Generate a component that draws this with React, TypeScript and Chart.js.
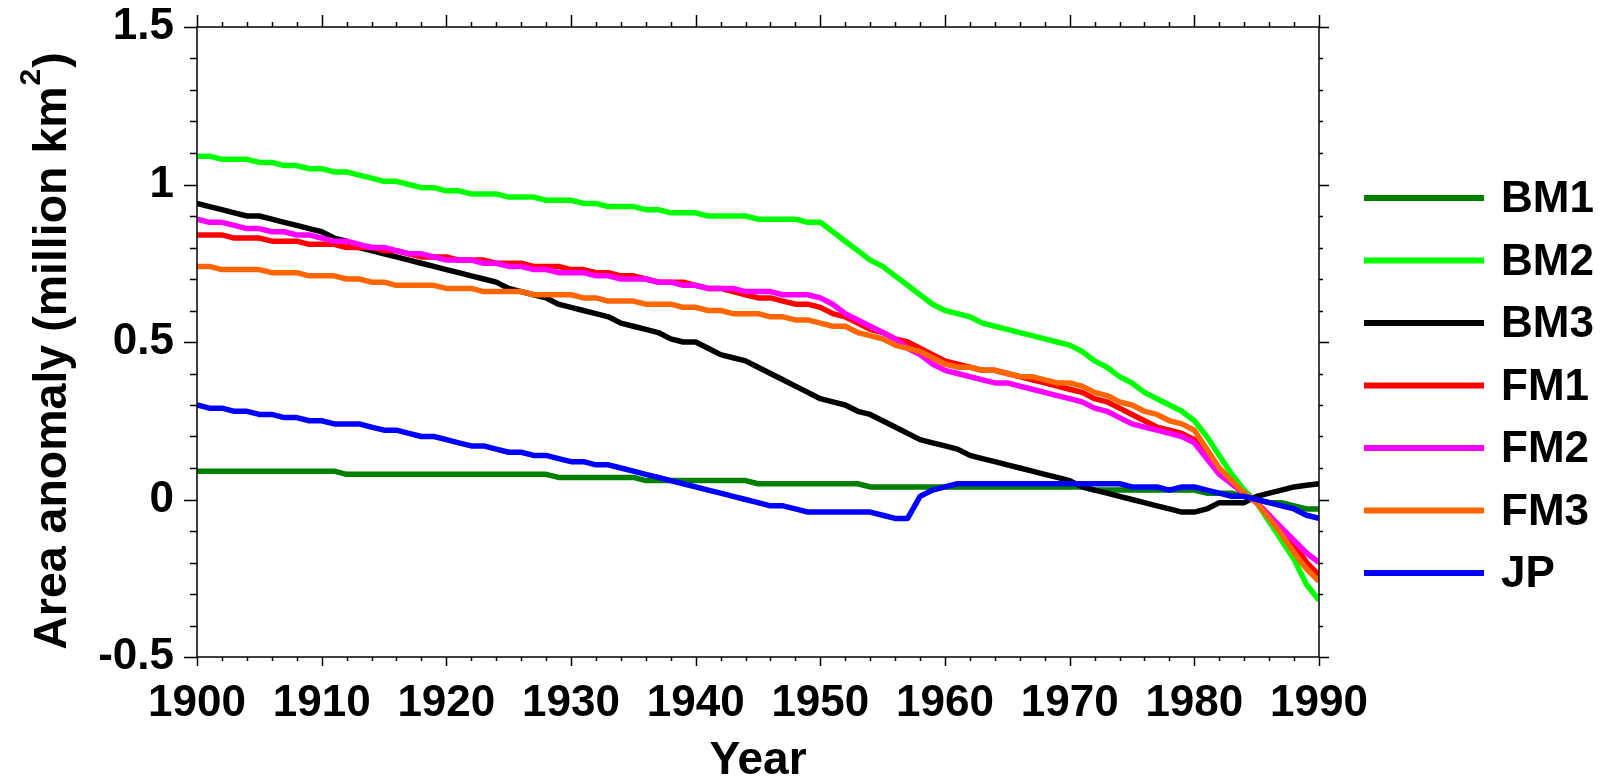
import React, { useEffect, useRef } from "react";
import { Chart, registerables } from "chart.js";

Chart.register(...registerables);

const YEARS: number[] = Array.from({ length: 91 }, (_, i) => 1900 + i);

const SERIES_NAMES = ["BM1", "BM2", "BM3", "FM1", "FM2", "FM3", "JP"];
const SERIES_COLORS = ["#007F00", "#00FF00", "#000000", "#FF0000", "#FF00FF", "#FF6600", "#0000FF"];

const BM1 = [
  0.09, 0.09, 0.09, 0.09, 0.09, 0.09, 0.09, 0.09, 0.09, 0.09,
  0.09, 0.09, 0.08, 0.08, 0.08, 0.08, 0.08, 0.08, 0.08, 0.08,
  0.08, 0.08, 0.08, 0.08, 0.08, 0.08, 0.08, 0.08, 0.08, 0.07,
  0.07, 0.07, 0.07, 0.07, 0.07, 0.07, 0.06, 0.06, 0.06, 0.06,
  0.06, 0.06, 0.06, 0.06, 0.06, 0.05, 0.05, 0.05, 0.05, 0.05,
  0.05, 0.05, 0.05, 0.05, 0.04, 0.04, 0.04, 0.04, 0.04, 0.04,
  0.04, 0.04, 0.04, 0.04, 0.04, 0.04, 0.04, 0.04, 0.04, 0.04,
  0.04, 0.04, 0.03, 0.03, 0.03, 0.03, 0.03, 0.03, 0.03, 0.03,
  0.03, 0.02, 0.02, 0.02, 0.01, 0.0, -0.01, -0.01, -0.02, -0.03, -0.03,
];

const BM2 = [
  1.09, 1.09, 1.08, 1.08, 1.08, 1.07, 1.07, 1.06, 1.06, 1.05,
  1.05, 1.04, 1.04, 1.03, 1.02, 1.01, 1.01, 1.0, 0.99, 0.99,
  0.98, 0.98, 0.97, 0.97, 0.97, 0.96, 0.96, 0.96, 0.95, 0.95,
  0.95, 0.94, 0.94, 0.93, 0.93, 0.93, 0.92, 0.92, 0.91, 0.91,
  0.91, 0.9, 0.9, 0.9, 0.9, 0.89, 0.89, 0.89, 0.89, 0.88,
  0.88, 0.85, 0.82, 0.79, 0.76, 0.74, 0.71, 0.68, 0.65, 0.62,
  0.6, 0.59, 0.58, 0.56, 0.55, 0.54, 0.53, 0.52, 0.51, 0.5,
  0.49, 0.47, 0.44, 0.42, 0.39, 0.37, 0.34, 0.32, 0.3, 0.28,
  0.25, 0.2, 0.14, 0.08, 0.03, -0.01, -0.07, -0.13, -0.19, -0.27, -0.32,
];

const BM3 = [
  0.94, 0.93, 0.92, 0.91, 0.9, 0.9, 0.89, 0.88, 0.87, 0.86,
  0.85, 0.83, 0.82, 0.8, 0.79, 0.78, 0.77, 0.76, 0.75, 0.74,
  0.73, 0.72, 0.71, 0.7, 0.69, 0.67, 0.66, 0.65, 0.64, 0.62,
  0.61, 0.6, 0.59, 0.58, 0.56, 0.55, 0.54, 0.53, 0.51, 0.5,
  0.5, 0.48, 0.46, 0.45, 0.44, 0.42, 0.4, 0.38, 0.36, 0.34,
  0.32, 0.31, 0.3, 0.28, 0.27, 0.25, 0.23, 0.21, 0.19, 0.18,
  0.17, 0.16, 0.14, 0.13, 0.12, 0.11, 0.1, 0.09, 0.08, 0.07,
  0.06, 0.04, 0.03, 0.02, 0.01, 0.0, -0.01, -0.02, -0.03, -0.04,
  -0.04, -0.03, -0.01, -0.01, -0.01, 0.01, 0.02, 0.03, 0.04, 0.045, 0.05,
];

const FM1 = [
  0.84, 0.84, 0.84, 0.83, 0.83, 0.83, 0.82, 0.82, 0.82, 0.81,
  0.81, 0.81, 0.8, 0.8, 0.8, 0.79, 0.79, 0.78, 0.77, 0.77,
  0.77, 0.76, 0.76, 0.76, 0.75, 0.75, 0.75, 0.74, 0.74, 0.74,
  0.73, 0.73, 0.72, 0.72, 0.71, 0.71, 0.7, 0.69, 0.69, 0.69,
  0.68, 0.67, 0.67, 0.66, 0.65, 0.64, 0.64, 0.63, 0.62, 0.62,
  0.61, 0.59, 0.58, 0.56, 0.54, 0.53, 0.51, 0.5, 0.48, 0.46,
  0.44, 0.43, 0.42, 0.41, 0.41, 0.4, 0.39, 0.38, 0.37, 0.36,
  0.35, 0.34, 0.32, 0.31, 0.29, 0.27, 0.25, 0.23, 0.22, 0.21,
  0.19, 0.14, 0.09, 0.05, 0.02, -0.01, -0.05, -0.1, -0.14, -0.2, -0.24,
];

const FM2 = [
  0.89, 0.88, 0.88, 0.87, 0.86, 0.86, 0.85, 0.85, 0.84, 0.84,
  0.83, 0.82, 0.82, 0.81, 0.8, 0.8, 0.79, 0.78, 0.78, 0.77,
  0.76, 0.76, 0.76, 0.75, 0.75, 0.74, 0.74, 0.73, 0.73, 0.72,
  0.72, 0.72, 0.71, 0.71, 0.7, 0.7, 0.7, 0.69, 0.69, 0.68,
  0.68, 0.67, 0.67, 0.67, 0.66, 0.66, 0.66, 0.65, 0.65, 0.65,
  0.64, 0.62, 0.59, 0.57, 0.55, 0.53, 0.51, 0.48, 0.46, 0.43,
  0.41, 0.4, 0.39, 0.38, 0.37, 0.37, 0.36, 0.35, 0.34, 0.33,
  0.32, 0.31, 0.29, 0.28, 0.26, 0.24, 0.23, 0.22, 0.21, 0.2,
  0.18, 0.13, 0.08, 0.05, 0.02, -0.01, -0.05, -0.09, -0.13, -0.17, -0.2,
];

const FM3 = [
  0.74, 0.74, 0.73, 0.73, 0.73, 0.73, 0.72, 0.72, 0.72, 0.71,
  0.71, 0.71, 0.7, 0.7, 0.69, 0.69, 0.68, 0.68, 0.68, 0.68,
  0.67, 0.67, 0.67, 0.66, 0.66, 0.66, 0.66, 0.65, 0.65, 0.65,
  0.65, 0.64, 0.64, 0.63, 0.63, 0.63, 0.62, 0.62, 0.62, 0.61,
  0.61, 0.6, 0.6, 0.59, 0.59, 0.59, 0.58, 0.58, 0.57, 0.57,
  0.56, 0.55, 0.55, 0.53, 0.52, 0.51, 0.49, 0.48, 0.47, 0.45,
  0.43, 0.42, 0.42, 0.41, 0.41, 0.4, 0.39, 0.39, 0.38, 0.37,
  0.37, 0.36, 0.34, 0.33, 0.31, 0.3, 0.28, 0.27, 0.25, 0.24,
  0.22, 0.16, 0.1, 0.06, 0.02, -0.01, -0.06, -0.11, -0.17, -0.22, -0.26,
];

const JP = [
  0.3, 0.29, 0.29, 0.28, 0.28, 0.27, 0.27, 0.26, 0.26, 0.25,
  0.25, 0.24, 0.24, 0.24, 0.23, 0.22, 0.22, 0.21, 0.2, 0.2,
  0.19, 0.18, 0.17, 0.17, 0.16, 0.15, 0.15, 0.14, 0.14, 0.13,
  0.12, 0.12, 0.11, 0.11, 0.1, 0.09, 0.08, 0.07, 0.06, 0.05,
  0.04, 0.03, 0.02, 0.01, 0.0, -0.01, -0.02, -0.02, -0.03, -0.04,
  -0.04, -0.04, -0.04, -0.04, -0.04, -0.05, -0.06, -0.06, 0.01, 0.03,
  0.04, 0.05, 0.05, 0.05, 0.05, 0.05, 0.05, 0.05, 0.05, 0.05,
  0.05, 0.05, 0.05, 0.05, 0.05, 0.04, 0.04, 0.04, 0.03, 0.04,
  0.04, 0.03, 0.02, 0.01, 0.01, 0.0, -0.01, -0.02, -0.03, -0.05, -0.06,
];

const SERIES_VALUES = [BM1, BM2, BM3, FM1, FM2, FM3, JP];

const X_MIN = 1900;
const X_MAX = 1990;
const X_MAJOR_STEP = 10;
const X_MINOR_STEP = 2;
const Y_MIN = -0.5;
const Y_MAX = 1.5;
const Y_MAJOR_STEP = 0.5;
const Y_MINOR_STEP = 0.1;

const X_TITLE = "Year";
const Y_TITLE_MAIN = "Area anomaly (million km";
const Y_TITLE_SUP = "2";
const Y_TITLE_END = ")";

const FONT_FAMILY = '"Liberation Sans", Arial, Helvetica, sans-serif';

const decorPlugin = {
  id: "decor",
  afterDraw(chart: any) {
    const { ctx, chartArea: a, scales } = chart;
    const x = scales.x;
    const y = scales.y;
    ctx.save();
    // frame
    ctx.strokeStyle = "#000";
    ctx.lineWidth = 1.5;
    ctx.strokeRect(a.left, a.top, a.right - a.left, a.bottom - a.top);

    // ticks
    ctx.beginPath();
    const nx = Math.round((X_MAX - X_MIN) / X_MINOR_STEP);
    for (let i = 0; i <= nx; i++) {
      const v = X_MIN + i * X_MINOR_STEP;
      const major = (v - X_MIN) % X_MAJOR_STEP === 0;
      const px = Math.round(x.getPixelForValue(v)) + 0.5;
      ctx.moveTo(px, a.bottom);
      ctx.lineTo(px, a.bottom + (major ? 9 : 4));
      ctx.moveTo(px, a.top);
      ctx.lineTo(px, a.top - (major ? 12 : 5));
    }
    const ny = Math.round((Y_MAX - Y_MIN) / Y_MINOR_STEP);
    const per = Math.round(Y_MAJOR_STEP / Y_MINOR_STEP);
    for (let i = 0; i <= ny; i++) {
      const v = Y_MIN + i * Y_MINOR_STEP;
      const major = i % per === 0;
      const py = Math.round(y.getPixelForValue(v)) + 0.5;
      ctx.moveTo(a.left, py);
      ctx.lineTo(a.left - (major ? 13 : 7), py);
      ctx.moveTo(a.right, py);
      ctx.lineTo(a.right + (major ? 10 : 4), py);
    }
    ctx.lineWidth = 1.5;
    ctx.stroke();

    // x title
    ctx.fillStyle = "#000";
    ctx.font = `bold 46px ${FONT_FAMILY}`;
    ctx.textAlign = "center";
    ctx.textBaseline = "alphabetic";
    ctx.fillText(X_TITLE, (a.left + a.right) / 2, 774);

    // y title (rotated, with superscript)
    ctx.save();
    ctx.translate(66, (a.top + a.bottom) / 2 + 9);
    ctx.rotate(-Math.PI / 2);
    const fMain = `bold 46.5px ${FONT_FAMILY}`;
    const fSup = `bold 30px ${FONT_FAMILY}`;
    ctx.textAlign = "left";
    ctx.font = fMain;
    const w1 = ctx.measureText(Y_TITLE_MAIN).width;
    const w3 = ctx.measureText(Y_TITLE_END).width;
    ctx.font = fSup;
    const w2 = ctx.measureText(Y_TITLE_SUP).width;
    let sx = -(w1 + w2 + w3 + 2) / 2;
    ctx.font = fMain;
    ctx.fillText(Y_TITLE_MAIN, sx, 0);
    sx += w1 + 1;
    ctx.font = fSup;
    ctx.fillText(Y_TITLE_SUP, sx, -26);
    sx += w2 + 1;
    ctx.font = fMain;
    ctx.fillText(Y_TITLE_END, sx, 0);
    ctx.restore();

    // legend
    const lx0 = 1364;
    const lx1 = 1484;
    const ly0 = 198;
    const dy = 62.5;
    ctx.font = `bold 44px ${FONT_FAMILY}`;
    ctx.textAlign = "left";
    ctx.textBaseline = "middle";
    SERIES_NAMES.forEach((name, i) => {
      const ly = ly0 + i * dy;
      ctx.beginPath();
      ctx.strokeStyle = SERIES_COLORS[i];
      ctx.lineWidth = 6;
      ctx.lineCap = "butt";
      ctx.moveTo(lx0, ly);
      ctx.lineTo(lx1, ly);
      ctx.stroke();
      ctx.fillStyle = "#000";
      ctx.fillText(name, 1501, ly + 2);
    });
    ctx.restore();
  },
};

export default function App() {
  const canvasRef = useRef<HTMLCanvasElement | null>(null);

  useEffect(() => {
    const canvas = canvasRef.current;
    if (!canvas) return;
    const datasets = SERIES_NAMES.map((name, i) => ({
      label: name,
      data: YEARS.map((yr, j) => ({ x: yr, y: SERIES_VALUES[i][j] })),
      borderColor: SERIES_COLORS[i],
      backgroundColor: SERIES_COLORS[i],
      borderWidth: 5.5,
      pointRadius: 0,
      pointHoverRadius: 0,
      tension: 0,
      fill: false,
      order: SERIES_NAMES.length - i,
      borderJoinStyle: "round" as const,
    }));

    const chart = new Chart(canvas, {
      type: "line",
      data: { datasets },
      plugins: [decorPlugin],
      options: {
        animation: false,
        responsive: false,
        devicePixelRatio: 1,
        layout: { padding: { left: 0, top: 27, right: 295, bottom: 0 } },
        plugins: {
          legend: { display: false },
          tooltip: { enabled: false },
          title: { display: false },
        },
        scales: {
          x: {
            type: "linear",
            min: X_MIN,
            max: X_MAX,
            grid: { display: false, drawTicks: false },
            border: { display: false },
            ticks: {
              stepSize: X_MAJOR_STEP,
              color: "#000",
              padding: 20,
              maxRotation: 0,
              autoSkip: false,
              font: { family: FONT_FAMILY, size: 44, weight: "bold" },
              callback: (v: any) => String(v),
            },
            afterFit: (scale: any) => {
              scale.height = 122;
              scale.paddingLeft = 0;
              scale.paddingRight = 0;
            },
          },
          y: {
            type: "linear",
            min: Y_MIN,
            max: Y_MAX,
            grid: { display: false, drawTicks: false },
            border: { display: false },
            ticks: {
              stepSize: Y_MAJOR_STEP,
              color: "#000",
              padding: 23,
              font: { family: FONT_FAMILY, size: 44, weight: "bold" },
              callback: (v: any) => String(Math.round(Number(v) * 10) / 10),
            },
            afterFit: (scale: any) => {
              scale.width = 197;
              scale.paddingTop = 0;
              scale.paddingBottom = 0;
            },
          },
        },
      } as any,
    });
    return () => chart.destroy();
  }, []);

  return (
    <div style={{ position: "fixed", left: 0, top: 0, width: 1614, height: 779, background: "#fff" }}>
      <canvas ref={canvasRef} width={1614} height={779} style={{ display: "block" }} />
    </div>
  );
}
